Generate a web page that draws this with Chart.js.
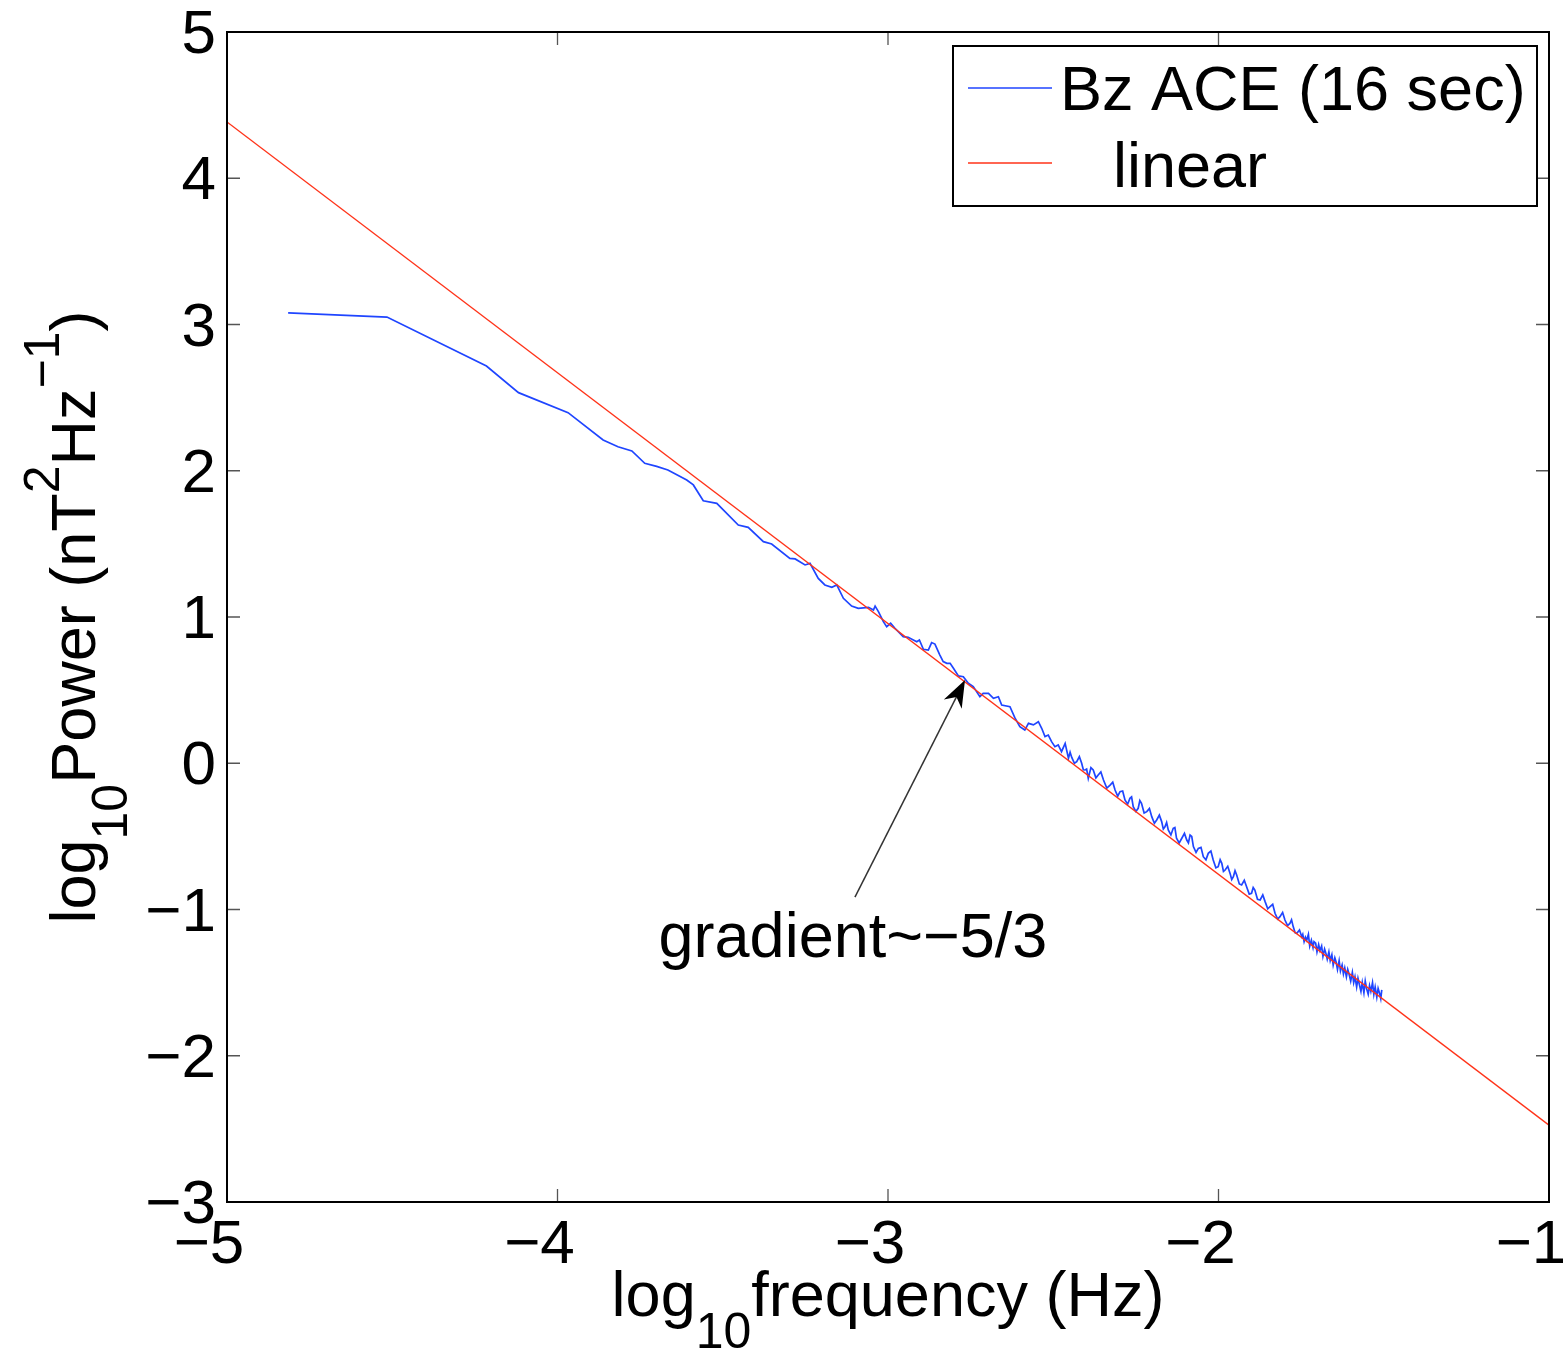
<!DOCTYPE html>
<html><head><meta charset="utf-8">
<script src="https://cdn.jsdelivr.net/npm/chart.js@4.4.1/dist/chart.umd.min.js"></script>
<style>html,body{margin:0;padding:0;background:#fff;} canvas{display:block;}</style>
</head><body>
<canvas id="c" width="1563" height="1350" style="width:1563px;height:1350px"></canvas>
<script>
// ---------- data ----------
const xTickValues = [-5, -4, -3, -2, -1];
const xTickLabels = ['\u22125', '\u22124', '\u22123', '\u22122', '\u22121'];
const yTickValues = [-3, -2, -1, 0, 1, 2, 3, 4, 5];
const yTickLabels = ['\u22123', '\u22122', '\u22121', '0', '1', '2', '3', '4', '5'];
const seriesLabels = ['Bz ACE (16 sec)', 'linear'];

const bzFreq = [
-4.815,-4.516,-4.215,-4.118,-3.968,-3.862,-3.817,-3.775,-3.736,-3.700,-3.666,
-3.609,-3.589,-3.559,-3.518,-3.453,-3.423,-3.377,-3.352,-3.297,-3.281,-3.251,-3.236,
-3.211,-3.191,-3.170,-3.155,-3.135,-3.110,-3.090,-3.059,-3.044,-3.039,-3.029,-3.014,
-3.004,-2.992,-2.979,-2.954,-2.939,-2.913,-2.905,-2.893,-2.878,-2.868,-2.858,-2.843,
-2.833,-2.822,-2.812,-2.802,-2.787,-2.772,-2.757,-2.742,-2.722,-2.712,-2.696,-2.681,
-2.666,-2.656,-2.631,
-2.616,-2.601,-2.586,-2.575,-2.560,-2.545,-2.535,-2.525,-2.515,-2.505,-2.495,-2.485,
-2.475,-2.464,
-2.454,-2.449,-2.444,-2.436,-2.429,-2.421,-2.414,-2.409,-2.404,-2.399,
-2.394,-2.386,-2.379,-2.371,-2.364,-2.356,-2.348,-2.338,-2.328,-2.320,
-2.313,-2.305,-2.298,-2.290,-2.283,-2.275,-2.268,-2.263,-2.258,-2.250,
-2.243,-2.238,-2.233,-2.225,-2.217,-2.209,-2.202,-2.194,-2.187,-2.179,
-2.172,-2.167,-2.162,-2.157,-2.152,-2.144,-2.137,-2.132,-2.127,-2.119,
-2.111,-2.103,-2.096,-2.091,-2.086,-2.081,-2.076,-2.068,-2.061,-2.053,
-2.046,-2.038,-2.031,-2.023,-2.016,-2.008,-2.001,-1.995,-1.990,-1.985,
-1.980,-1.972,-1.965,-1.960,-1.955,-1.950,-1.945,-1.937,-1.930,-1.922,
-1.915,-1.907,-1.900,-1.895,-1.890,-1.882,-1.874,-1.866,-1.859,-1.851,
-1.844,-1.836,-1.829,-1.821,-1.814,-1.806,-1.799,-1.791,-1.784,-1.779,
-1.774,-1.768,-1.763,-1.755,-1.748,
-1.745,-1.741,-1.737,-1.733,-1.728,-1.724,-1.719,-1.714,-1.711,-1.706,
-1.702,-1.697,-1.693,-1.688,-1.684,-1.679,-1.675,-1.671,-1.666,-1.662,
-1.657,-1.653,-1.648,-1.644,-1.640,-1.635,-1.631,-1.626,-1.622,-1.618,
-1.613,-1.609,-1.604,-1.600,-1.595,-1.591,-1.587,-1.582,-1.578,-1.573,
-1.569,-1.565,-1.560,-1.556,-1.552,-1.547,-1.543,-1.539,-1.534,-1.530,
-1.526,-1.521,-1.517,-1.513,-1.509,-1.506
];
const bzPower = [
3.079,3.051,2.716,2.534,2.397,2.210,2.164,2.135,2.051,2.030,2.005,
1.937,1.903,1.795,1.777,1.629,1.613,1.515,1.499,1.401,1.397,1.356,1.367,
1.264,1.219,1.203,1.219,1.128,1.075,1.059,1.066,1.048,1.075,1.037,0.968,
0.934,0.957,0.923,0.866,0.861,0.831,0.843,0.779,0.774,0.825,0.815,0.740,
0.695,0.683,0.683,0.649,0.597,0.592,0.547,0.524,0.455,0.478,0.478,0.444,
0.455,0.398,0.387,
0.310,0.250,0.227,0.273,0.262,0.284,0.239,0.182,0.193,0.148,0.113,0.125,
0.079,0.136,
0.034,0.075,0.040,0.000,0.011,0.045,0.000,-0.045,-0.046,-0.040,
-0.103,-0.030,-0.046,-0.100,-0.080,-0.060,-0.115,-0.170,-0.149,-0.130,
-0.183,-0.225,-0.194,-0.190,-0.251,-0.280,-0.240,-0.230,-0.297,-0.330,
-0.308,-0.255,-0.274,-0.340,-0.331,-0.310,-0.365,-0.410,-0.388,-0.355,
-0.399,-0.450,-0.434,-0.405,-0.456,-0.490,-0.445,-0.440,-0.513,-0.545,
-0.513,-0.480,-0.525,-0.545,-0.491,-0.500,-0.570,-0.610,-0.582,-0.575,
-0.639,-0.660,-0.616,-0.600,-0.662,-0.715,-0.707,-0.660,-0.684,-0.740,
-0.730,-0.705,-0.753,-0.795,-0.776,-0.735,-0.764,-0.825,-0.832,-0.800,
-0.844,-0.895,-0.889,-0.850,-0.867,-0.930,-0.935,-0.900,-0.946,-0.995,
-0.981,-0.965,-1.026,-1.065,-1.049,-1.020,-1.072,-1.110,-1.095,-1.070,
-1.117,-1.160,-1.163,-1.140,-1.186,
-1.17,-1.22,-1.19,-1.21,-1.17,-1.25,-1.21,-1.26,-1.22,-1.23,
-1.29,-1.24,-1.28,-1.25,-1.32,-1.27,-1.30,-1.34,-1.29,-1.35,
-1.31,-1.38,-1.33,-1.36,-1.41,-1.35,-1.42,-1.38,-1.44,-1.40,
-1.46,-1.41,-1.45,-1.49,-1.43,-1.50,-1.46,-1.53,-1.47,-1.52,
-1.56,-1.50,-1.57,-1.49,-1.54,-1.58,-1.52,-1.56,-1.50,-1.58,
-1.53,-1.60,-1.54,-1.57,-1.61,-1.55
];
const linearFreq = [-5, -1];
const linearPower = [4.385, -2.474];

const annotationText = 'gradient~\u22125/3';
const annotationAt = [-3.106, -1.325];
const arrowTail = [-3.100, -0.915];
const arrowTip = [-2.767, 0.569];

// ---------- styles ----------
const FONT = '"Liberation Sans", Arial, Helvetica, sans-serif';
const BLUE = '#1f45ff';
const RED = '#ff3319';

function richText(ctx, parts, x, y, align) {
  let total = 0;
  parts.forEach(p => { ctx.font = p.size + 'px ' + FONT; p.w = ctx.measureText(p.t).width; total += p.w; });
  let cx = align === 'center' ? x - total / 2 : x;
  ctx.textAlign = 'left'; ctx.textBaseline = 'alphabetic';
  parts.forEach(p => { ctx.font = p.size + 'px ' + FONT; ctx.fillText(p.t, cx, y + (p.dy || 0)); cx += p.w; });
}

const decorPlugin = {
  id: 'decor',
  afterDatasetsDraw(chart) {
    const {ctx, chartArea: a, scales: {x, y}} = chart;
    ctx.save();
    // inward ticks on all four sides
    ctx.strokeStyle = '#555'; ctx.lineWidth = 1.3;
    const TL = 13;
    ctx.beginPath();
    xTickValues.forEach(v => {
      const p = x.getPixelForValue(v);
      ctx.moveTo(p, a.bottom); ctx.lineTo(p, a.bottom - TL);
      ctx.moveTo(p, a.top); ctx.lineTo(p, a.top + TL);
    });
    yTickValues.forEach(v => {
      const p = y.getPixelForValue(v);
      ctx.moveTo(a.left, p); ctx.lineTo(a.left + TL, p);
      ctx.moveTo(a.right, p); ctx.lineTo(a.right - TL, p);
    });
    ctx.stroke();
    // frame
    ctx.strokeStyle = '#000'; ctx.lineWidth = 2;
    ctx.strokeRect(a.left, a.top, a.right - a.left, a.bottom - a.top);

    // annotation arrow
    const tx = x.getPixelForValue(arrowTip[0]), ty = y.getPixelForValue(arrowTip[1]);
    const sx = x.getPixelForValue(arrowTail[0]), sy = y.getPixelForValue(arrowTail[1]);
    const len = Math.hypot(tx - sx, ty - sy);
    const dx = (tx - sx) / len, dy = (ty - sy) / len;
    const nx = -dy, ny = dx;
    const L = 27, W = 10;
    ctx.strokeStyle = '#333'; ctx.lineWidth = 1.5;
    ctx.beginPath(); ctx.moveTo(sx, sy); ctx.lineTo(tx - dx * L * 0.7, ty - dy * L * 0.7); ctx.stroke();
    ctx.fillStyle = '#000';
    ctx.beginPath();
    ctx.moveTo(tx, ty);
    ctx.lineTo(tx - dx * L + nx * W, ty - dy * L + ny * W);
    ctx.lineTo(tx - dx * L * 0.7, ty - dy * L * 0.7);
    ctx.lineTo(tx - dx * L - nx * W, ty - dy * L - ny * W);
    ctx.closePath(); ctx.fill();
    // annotation text
    ctx.fillStyle = '#000';
    ctx.font = '63px ' + FONT; ctx.textAlign = 'center'; ctx.textBaseline = 'alphabetic';
    ctx.fillText(annotationText, x.getPixelForValue(annotationAt[0]), y.getPixelForValue(annotationAt[1]));

    // legend box
    const bx = a.right - 596, by = a.top + 14, bw = 584, bh = 160;
    ctx.fillStyle = '#fff'; ctx.fillRect(bx, by, bw, bh);
    ctx.strokeStyle = '#000'; ctx.lineWidth = 2; ctx.strokeRect(bx, by, bw, bh);
    const rowsY = [42, 117], textBase = [64, 141], textX = [107, 160];
    chart.data.datasets.forEach((ds, i) => {
      ctx.strokeStyle = ds.borderColor; ctx.lineWidth = 1.5;
      ctx.beginPath(); ctx.moveTo(bx + 15, by + rowsY[i]); ctx.lineTo(bx + 99, by + rowsY[i]); ctx.stroke();
      ctx.fillStyle = '#000'; ctx.font = '63px ' + FONT; ctx.textAlign = 'left'; ctx.textBaseline = 'alphabetic';
      ctx.fillText(ds.label, bx + textX[i], by + textBase[i]);
    });
    ctx.restore();
  },
  afterDraw(chart) {
    const {ctx, chartArea: a} = chart;
    ctx.save();
    ctx.fillStyle = '#000';
    // x title
    richText(ctx, [
      {t: 'log', size: 63}, {t: '10', size: 50, dy: 32}, {t: 'frequency (Hz)', size: 63}
    ], (a.left + a.right) / 2, 1316, 'center');
    // y title
    ctx.translate(95, (a.top + a.bottom) / 2);
    ctx.rotate(-Math.PI / 2);
    richText(ctx, [
      {t: 'log', size: 63}, {t: '10', size: 50, dy: 32}, {t: 'Power (nT', size: 63},
      {t: '2', size: 50, dy: -36}, {t: 'Hz', size: 63}, {t: '\u22121', size: 50, dy: -36}, {t: ')', size: 63}
    ], 0, 0, 'center');
    ctx.restore();
  }
};

new Chart(document.getElementById('c'), {
  type: 'scatter',
  data: {
    datasets: [
      { label: seriesLabels[0], data: bzFreq.map((f, i) => ({x: f, y: bzPower[i]})),
        borderColor: BLUE, backgroundColor: BLUE, borderWidth: 1.7, showLine: true, pointRadius: 0, order: 2 },
      { label: seriesLabels[1], data: linearFreq.map((f, i) => ({x: f, y: linearPower[i]})),
        borderColor: RED, backgroundColor: RED, borderWidth: 1.4, showLine: true, pointRadius: 0, order: 1 }
    ]
  },
  options: {
    responsive: false, animation: false, devicePixelRatio: 1,
    layout: { padding: { top: 32, right: 14, left: 0, bottom: 0 } },
    plugins: { legend: { display: false }, tooltip: { enabled: false } },
    scales: {
      x: {
        type: 'linear', min: -5, max: -1,
        afterBuildTicks: s => { s.ticks = xTickValues.map(v => ({value: v})); },
        ticks: { font: { size: 62, family: FONT }, color: '#000', padding: 7, labelOffset: -18, maxRotation: 0, autoSkip: false,
          callback: v => xTickLabels[xTickValues.indexOf(v)] },
        grid: { display: false, drawTicks: false }, border: { display: false },
        afterFit: s => { s.height = 148; s.paddingLeft = 0; s.paddingRight = 0; }
      },
      y: {
        type: 'linear', min: -3, max: 5,
        afterBuildTicks: s => { s.ticks = yTickValues.map(v => ({value: v})); },
        ticks: { font: { size: 62, family: FONT }, color: '#000', padding: 11, labelOffset: 4, autoSkip: false,
          callback: v => yTickLabels[yTickValues.indexOf(v)] },
        grid: { display: false, drawTicks: false }, border: { display: false },
        afterFit: s => { s.width = 227; s.paddingTop = 0; s.paddingBottom = 0; }
      }
    }
  },
  plugins: [decorPlugin]
});
</script>
</body></html>
